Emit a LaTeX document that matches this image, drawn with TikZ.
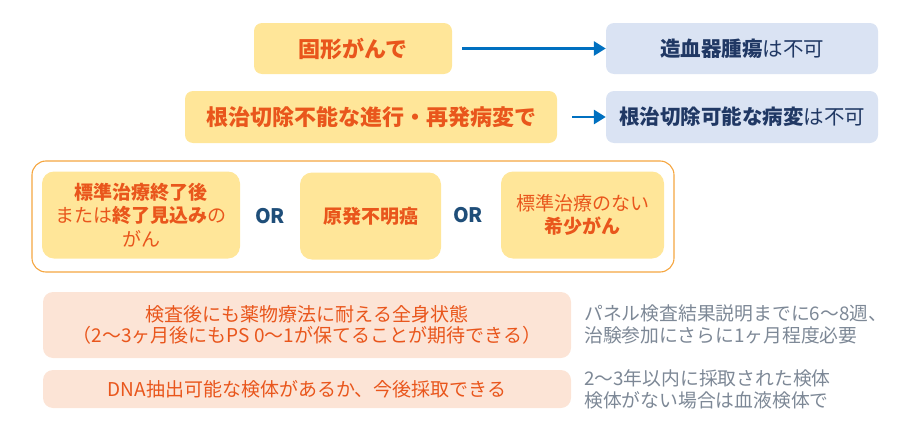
\documentclass[tikz,border=0pt]{standalone}
\usepackage{fontspec}
\setmainfont{Noto Sans CJK JP}
\usetikzlibrary{arrows.meta}
\definecolor{yelfill}{HTML}{FFE699}
\definecolor{orgtxt}{HTML}{E9561C}
\definecolor{bluefill}{HTML}{DAE3F3}
\definecolor{bluetxt}{HTML}{203864}
\definecolor{arrowblue}{HTML}{0070C0}
\definecolor{outerorg}{HTML}{F5A640}
\definecolor{peach}{HTML}{FCE4D6}
\definecolor{graytxt}{HTML}{7D8896}
\definecolor{ortxt}{HTML}{1F4E79}
\tikzset{
  ybox/.style={fill=yelfill, rounded corners=8pt, inner sep=0pt, text=orgtxt, align=center, font=\fontsize{22}{26}\selectfont\bfseries},
  bbox/.style={fill=bluefill, rounded corners=8pt, inner sep=0pt, text=bluetxt, align=center, font=\fontsize{20.5}{24}\selectfont},
  ibox/.style={fill=yelfill, rounded corners=12pt, inner sep=0pt, text=orgtxt, align=center, font=\fontsize{19}{23.5}\selectfont},
  pbox/.style={fill=peach, rounded corners=10pt, inner sep=0pt, text=orgtxt, align=center, font=\fontsize{19}{21.5}\selectfont},
  note/.style={anchor=west, inner sep=0pt, text=graytxt, align=left, font=\fontsize{18.8}{22}\selectfont},
  ortext/.style={text=ortxt, font=\fontsize{20}{22}\selectfont\bfseries},
  blarrow/.style={draw=arrowblue, line width=2.8pt, -{Triangle[length=12pt,width=14pt]}},
}
\begin{document}
\begin{tikzpicture}[x=1pt,y=-1pt]
\useasboundingbox (0,0) rectangle (913,431);
% top rows
\node[ybox, minimum width=198pt, minimum height=51pt] (solid) at (353,48.5) {固形がんで};
\node[ybox, minimum width=372pt, minimum height=52pt] (adv) at (371,117) {根治切除不能な進行・再発病変で};
\node[bbox, minimum width=272pt, minimum height=51pt] (heme) at (742,48.5) {\textbf{造血器腫瘍}は不可};
\node[bbox, minimum width=272pt, minimum height=52pt] (resect) at (742,117) {\textbf{根治切除可能な病変}は不可};
\draw[blarrow, shorten <=10pt] (solid.east) -- (heme.west);
\draw[blarrow, shorten <=15pt] (adv.east) -- (resect.west);
% middle group
\node[draw=outerorg, line width=1.1pt, rounded corners=14pt, minimum width=642pt, minimum height=111pt] (grp) at (353,216.5) {};
\node[ibox, minimum width=198pt, minimum height=87pt] (std) at (141,215) {\textbf{標準治療終了後}\\または\textbf{終了見込み}の\\がん};
\node[ortext] (or1) at (270,216) {OR};
\node[ibox, minimum width=141pt, minimum height=87pt] (cup) at (370.5,216) {\textbf{原発不明癌}};
\node[ortext] (or2) at (468,215) {OR};
\node[ibox, minimum width=163pt, minimum height=87pt] (rare) at (582.5,215) {標準治療のない\\\textbf{希少がん}};
% bottom rows
\node[pbox, minimum width=528pt, minimum height=66pt] (ps) at (307,325) {検査後にも薬物療法に耐える全身状態\\（2〜3ヶ月後にもPS 0〜1が保てることが期待できる）};
\node[pbox, minimum width=528pt, minimum height=38pt] (dna) at (307,389) {DNA抽出可能な検体があるか、今後採取できる};
\node[note] (n1) at (584,324) {パネル検査結果説明までに6〜8週、\\治験参加にさらに1ヶ月程度必要};
\node[note] (n2) at (584,389.5) {2〜3年以内に採取された検体\\検体がない場合は血液検体で};
\end{tikzpicture}
\end{document}
